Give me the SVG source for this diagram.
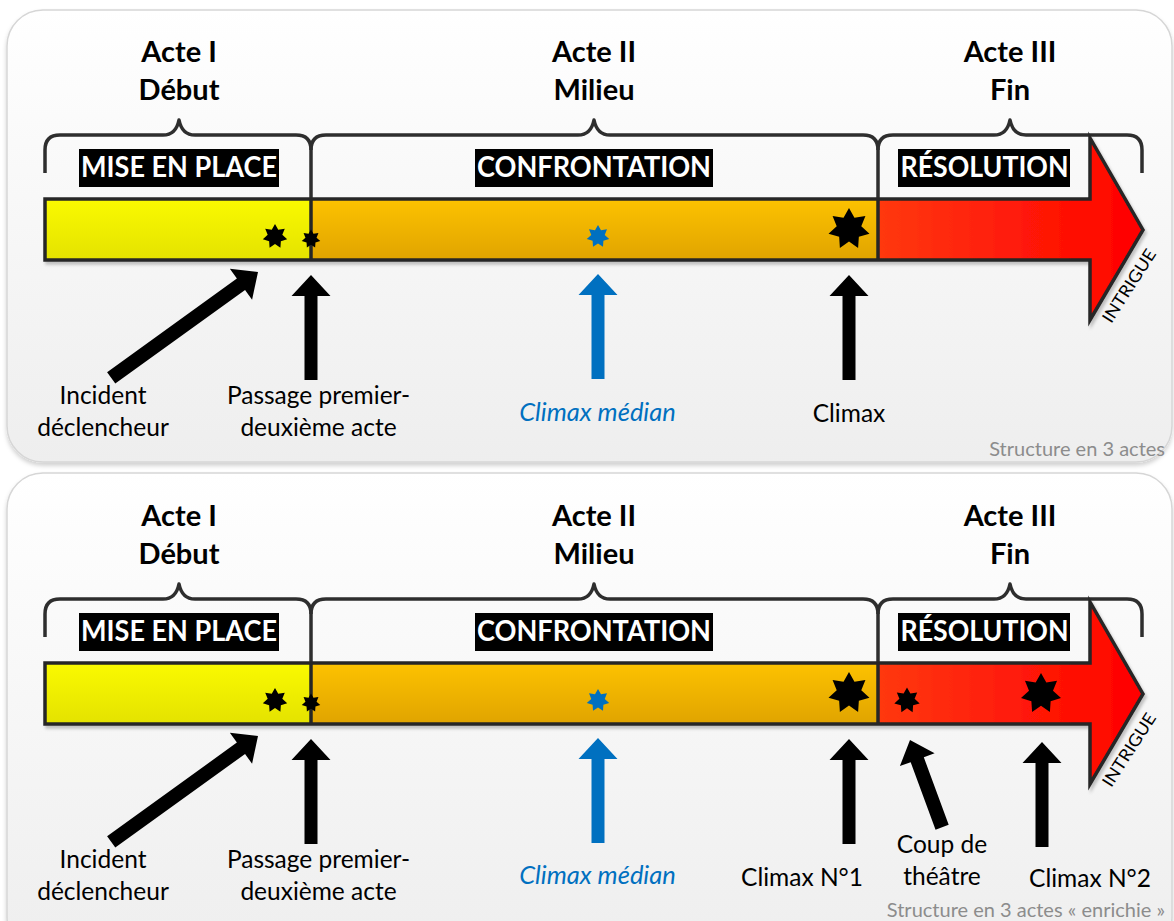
<svg xmlns="http://www.w3.org/2000/svg" xmlns:xlink="http://www.w3.org/1999/xlink" width="1174" height="921" viewBox="0 0 1174 921">
<defs>
<linearGradient id="gPanel" x1="0" y1="0" x2="0" y2="1">
<stop offset="0" stop-color="#ffffff"/><stop offset="1" stop-color="#eeeeee"/>
</linearGradient>
<linearGradient id="gYellow" x1="0" y1="0" x2="0" y2="1">
<stop offset="0" stop-color="#fafa00"/><stop offset="1" stop-color="#e4e200"/>
</linearGradient>
<linearGradient id="gOrange" x1="0" y1="0" x2="0" y2="1">
<stop offset="0" stop-color="#fdc200"/><stop offset="1" stop-color="#e0a400"/>
</linearGradient>
<linearGradient id="gRed" gradientUnits="userSpaceOnUse" x1="878" y1="0" x2="1143" y2="0">
<stop offset="0" stop-color="#ff3810"/><stop offset="1" stop-color="#ff0000"/>
</linearGradient>
<filter id="fShadow" x="-5%" y="-5%" width="110%" height="115%">
<feDropShadow dx="0" dy="3" stdDeviation="2" flood-color="#000" flood-opacity="0.18"/>
</filter>
<filter id="fBar" x="-5%" y="-10%" width="110%" height="130%">
<feDropShadow dx="2" dy="3" stdDeviation="1.5" flood-color="#000" flood-opacity="0.22"/>
</filter>
<path id="star" d="M0,-10 L2.603,-5.406 L7.818,-6.235 L5.849,-1.335 L9.749,2.225 L4.691,3.741 L4.339,9.010 L0,6 L-4.339,9.010 L-4.691,3.741 L-9.749,2.225 L-5.849,-1.335 L-7.818,-6.235 L-2.603,-5.406 Z"/>
<path id="arrV" d="M0,0 L19.5,21 L6.5,21 L6.5,105 L-6.5,105 L-6.5,21 L-19.5,21 Z"/>
<path id="arrDiag" d="M0,0 L19,21 L7,21 L7,181 L-7,181 L-7,21 L-19,21 Z"/>
<path id="arrCoup" d="M0,0 L18.5,21 L7,21 L7,93 L-7,93 L-7,21 L-18.5,21 Z"/>
</defs>
<style>
.panel{fill:url(#gPanel);stroke:#d6d6d6;stroke-width:1.5}
.brace{fill:none;stroke:#2e2e2e;stroke-width:3.5;stroke-linejoin:round}
.outline{fill:none;stroke:#262626;stroke-width:3.5;stroke-linejoin:miter}
.title{font-family:Lato,"Liberation Sans",sans-serif;font-weight:bold;font-size:29px;fill:#000;text-anchor:middle}
.boxlbl{font-family:Lato,"Liberation Sans",sans-serif;font-weight:bold;font-size:28px;fill:#fff;text-anchor:middle}
.lbl{font-family:Lato,"Liberation Sans",sans-serif;font-size:24.5px;fill:#000;text-anchor:middle}
.blue{fill:#0070c0}
.ital{font-style:italic;font-size:25.5px}
.cap{font-family:Lato,"Liberation Sans",sans-serif;font-size:20px;fill:#8c8c8c;text-anchor:end}
.intr{font-family:Lato,"Liberation Sans",sans-serif;font-size:17px;fill:#000;text-anchor:middle}
.blk{fill:#000}
</style>

<!-- ===== Panel 1 ===== -->
<g id="panel1">
<rect id="panel1-bg" class="panel" x="7" y="10" width="1165" height="452" rx="36" filter="url(#fShadow)"/>
<g id="p1-titles">
<text class="title" x="179" y="62">Acte I</text>
<text class="title" x="179" y="100">Début</text>
<text class="title" x="594" y="62">Acte II</text>
<text class="title" x="594" y="100">Milieu</text>
<text class="title" x="1010" y="62">Acte III</text>
<text class="title" x="1010" y="100">Fin</text>
</g>
<g id="p1-braces">
<path class="brace" d="M45,173 V150 Q45,135 60,135 H163 Q176,135 179,120 Q182,135 195,135 H296 Q311,135 311,150 V199"/>
<path class="brace" d="M311,150 Q311,135 326,135 H578 Q591,135 594,120 Q597,135 610,135 H863 Q878,135 878,150 V199"/>
<path class="brace" d="M878,150 Q878,135 893,135 H994 Q1007,135 1010,120 Q1013,135 1026,135 H1127 Q1142,135 1142,150 V173"/>
</g>
<g id="p1-labels">
<rect x="79" y="149" width="200" height="38" fill="#000"/>
<text class="boxlbl" x="179" y="177" textLength="196" lengthAdjust="spacingAndGlyphs">MISE EN PLACE</text>
<rect x="475" y="149" width="238" height="38" fill="#000"/>
<text class="boxlbl" x="594" y="177" textLength="234" lengthAdjust="spacingAndGlyphs">CONFRONTATION</text>
<rect x="898" y="149" width="172" height="38" fill="#000"/>
<text class="boxlbl" x="984.5" y="177" textLength="168" lengthAdjust="spacingAndGlyphs">RÉSOLUTION</text>
</g>
<g id="p1-bar" filter="url(#fBar)">
<rect x="45" y="199" width="266" height="61" fill="url(#gYellow)"/>
<rect x="311" y="199" width="567" height="61" fill="url(#gOrange)"/>
<path d="M878,199 H1090 V138 L1143,230 L1090,320 V260 H878 Z" fill="url(#gRed)"/>
<path class="outline" d="M45,199 H1090 V138 L1143,230 L1090,320 V260 H45 Z"/>
<line class="outline" x1="311" y1="199" x2="311" y2="260"/>
<line class="outline" x1="878" y1="199" x2="878" y2="260"/>
</g>
<text class="intr" transform="translate(1134,289) rotate(-57)" textLength="84" lengthAdjust="spacingAndGlyphs">INTRIGUE</text>
<g id="p1-stars">
<use href="#star" class="blk" transform="translate(275,236.5) scale(1.25)"/>
<use href="#star" class="blk" transform="translate(311,239) scale(0.95)"/>
<use href="#star" class="blue" transform="translate(598,236.5) scale(1.15)"/>
<use href="#star" class="blk" transform="translate(849,229) scale(2.1)"/>
</g>
<g id="p1-texts">
<text class="lbl" x="103" y="404">Incident</text>
<text class="lbl" x="103" y="436">déclencheur</text>
<text class="lbl" x="318.5" y="404">Passage premier-</text>
<text class="lbl" x="318.5" y="436">deuxième acte</text>
<text class="lbl blue ital" x="597.5" y="421">Climax médian</text>
<text class="lbl" x="849" y="422">Climax</text>
<text class="cap" x="1165" y="456">Structure en 3 actes</text>
</g>
</g>

<!-- ===== Panel 2 ===== -->
<g id="panel2">
<rect id="panel2-bg" class="panel" x="7" y="473" width="1165" height="480" rx="36" filter="url(#fShadow)"/>
<g transform="translate(0,464)">
<g id="p2-titles">
<text class="title" x="179" y="62">Acte I</text>
<text class="title" x="179" y="100">Début</text>
<text class="title" x="594" y="62">Acte II</text>
<text class="title" x="594" y="100">Milieu</text>
<text class="title" x="1010" y="62">Acte III</text>
<text class="title" x="1010" y="100">Fin</text>
</g>
<g id="p2-braces">
<path class="brace" d="M45,173 V150 Q45,135 60,135 H163 Q176,135 179,120 Q182,135 195,135 H296 Q311,135 311,150 V199"/>
<path class="brace" d="M311,150 Q311,135 326,135 H578 Q591,135 594,120 Q597,135 610,135 H863 Q878,135 878,150 V199"/>
<path class="brace" d="M878,150 Q878,135 893,135 H994 Q1007,135 1010,120 Q1013,135 1026,135 H1127 Q1142,135 1142,150 V173"/>
</g>
<g id="p2-labels">
<rect x="79" y="149" width="200" height="38" fill="#000"/>
<text class="boxlbl" x="179" y="177" textLength="196" lengthAdjust="spacingAndGlyphs">MISE EN PLACE</text>
<rect x="475" y="149" width="238" height="38" fill="#000"/>
<text class="boxlbl" x="594" y="177" textLength="234" lengthAdjust="spacingAndGlyphs">CONFRONTATION</text>
<rect x="898" y="149" width="172" height="38" fill="#000"/>
<text class="boxlbl" x="984.5" y="177" textLength="168" lengthAdjust="spacingAndGlyphs">RÉSOLUTION</text>
</g>
<g id="p2-bar" filter="url(#fBar)">
<rect x="45" y="199" width="266" height="61" fill="url(#gYellow)"/>
<rect x="311" y="199" width="567" height="61" fill="url(#gOrange)"/>
<path d="M878,199 H1090 V138 L1143,230 L1090,320 V260 H878 Z" fill="url(#gRed)"/>
<path class="outline" d="M45,199 H1090 V138 L1143,230 L1090,320 V260 H45 Z"/>
<line class="outline" x1="311" y1="199" x2="311" y2="260"/>
<line class="outline" x1="878" y1="199" x2="878" y2="260"/>
</g>
<text class="intr" transform="translate(1134,289) rotate(-57)" textLength="84" lengthAdjust="spacingAndGlyphs">INTRIGUE</text>
<g id="p2-stars">
<use href="#star" class="blk" transform="translate(275,236.5) scale(1.25)"/>
<use href="#star" class="blk" transform="translate(311,239) scale(0.95)"/>
<use href="#star" class="blue" transform="translate(598,236.5) scale(1.15)"/>
<use href="#star" class="blk" transform="translate(849,229) scale(2.1)"/>
<use href="#star" class="blk" transform="translate(907,236.5) scale(1.3)"/>
<use href="#star" class="blk" transform="translate(1041,229.5) scale(2.05)"/>
</g>
<g id="p2-texts">
<text class="lbl" x="103" y="404">Incident</text>
<text class="lbl" x="103" y="436">déclencheur</text>
<text class="lbl" x="318.5" y="404">Passage premier-</text>
<text class="lbl" x="318.5" y="436">deuxième acte</text>
<text class="lbl blue ital" x="597.5" y="420">Climax médian</text>
<text class="lbl" x="802" y="422">Climax N°1</text>
<text class="lbl" x="942" y="389">Coup de</text>
<text class="lbl" x="942" y="421">théâtre</text>
<text class="lbl" x="1090" y="423">Climax N°2</text>
<text class="cap" x="1165" y="452.5">Structure en 3 actes « enrichie »</text>
</g>
</g>
</g>

<!-- ===== Connectors ===== -->
<g id="connectors">
<use href="#arrDiag" class="blk" transform="translate(258,272) rotate(54.2)"/>
<use href="#arrV" class="blk" transform="translate(311,275)"/>
<use href="#arrV" class="blue" transform="translate(598,274)"/>
<use href="#arrV" class="blk" transform="translate(849,275)"/>
<use href="#arrDiag" class="blk" transform="translate(258,736) rotate(54.2)"/>
<use href="#arrV" class="blk" transform="translate(311,739)"/>
<use href="#arrV" class="blue" transform="translate(598,738)"/>
<use href="#arrV" class="blk" transform="translate(849,739)"/>
<use href="#arrCoup" class="blk" transform="translate(910,740) rotate(-20.2)"/>
<use href="#arrV" class="blk" transform="translate(1042,742)"/>
</g>
</svg>
